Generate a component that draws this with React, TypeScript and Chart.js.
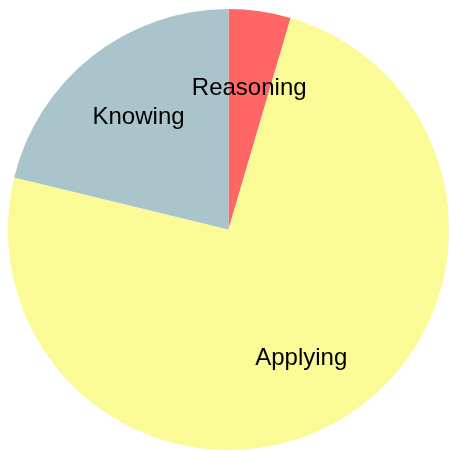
import React, { useEffect, useRef } from "react";
import { Chart, registerables } from "chart.js";

Chart.register(...registerables);

const categories = ["Reasoning", "Applying", "Knowing"];
const values = [3, 49, 14];
const colors = ["rgb(255,102,102)", "rgb(250,250,150)", "rgb(170,196,204)"];

const labelPlugin = {
  id: "sliceLabels",
  afterDatasetsDraw(chart: any) {
    const ctx = chart.ctx;
    const meta = chart.getDatasetMeta(0);
    ctx.save();
    ctx.font = '24px "Liberation Sans", Arial, sans-serif';
    ctx.fillStyle = "#000";
    ctx.textAlign = "center";
    ctx.textBaseline = "middle";
    meta.data.forEach((arc: any, i: number) => {
      const p = arc.getProps(["x", "y", "startAngle", "endAngle", "outerRadius"], true);
      const mid = (p.startAngle + p.endAngle) / 2;
      const r = p.outerRadius * 0.66;
      ctx.fillText(categories[i], p.x + Math.cos(mid) * r, p.y + Math.sin(mid) * r + 2.5);
    });
    ctx.restore();
  },
};

export default function App() {
  const ref = useRef<HTMLCanvasElement>(null);
  useEffect(() => {
    document.documentElement.style.overflow = "hidden";
    const chart = new Chart(ref.current!, {
      type: "pie",
      data: {
        labels: categories,
        datasets: [
          {
            data: values,
            backgroundColor: colors,
            borderWidth: 0,
          },
        ],
      },
      options: {
        animation: false,
        responsive: false,
        maintainAspectRatio: false,
        layout: { padding: { left: 8, top: 8, right: 0, bottom: 0 } },
        plugins: {
          legend: { display: false },
          tooltip: { enabled: false },
        },
      },
      plugins: [labelPlugin],
    });
    return () => chart.destroy();
  }, []);
  return (
    <div style={{ position: "fixed", left: 0, top: 0, width: 449, height: 451 }}>
      <canvas ref={ref} width={449} height={451} style={{ width: 449, height: 451, display: "block" }} />
    </div>
  );
}
